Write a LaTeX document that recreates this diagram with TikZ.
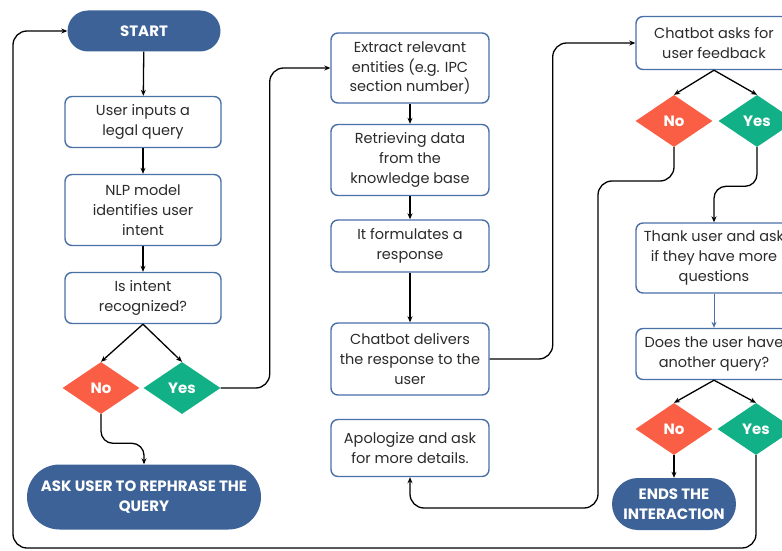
\documentclass[tikz,border=0pt]{standalone}
\usepackage{fontspec}
\setmainfont{Poppins}
\usepackage{xcolor}
\usepackage{tikz}
\usetikzlibrary{shapes.geometric,shapes.misc,arrows.meta}
\definecolor{pillblue}{HTML}{3D6298}
\definecolor{boxblue}{HTML}{4A70A8}
\definecolor{nored}{HTML}{FA5E44}
\definecolor{yesgreen}{HTML}{12B086}
\definecolor{textgrey}{HTML}{2B2B2B}
\begin{document}
\begin{tikzpicture}[x=1pt,y=-1pt,
  box/.style={draw=boxblue,line width=1.4pt,rounded corners=7pt,fill=white,align=center,text=textgrey,minimum width=156pt,inner sep=2pt,font=\fontsize{14.5}{19.8}\selectfont},
  pill/.style={rounded rectangle,fill=pillblue,text=white,align=center,inner sep=2pt,font=\fontsize{15}{19.5}\selectfont\bfseries},
  nobox/.style={diamond,fill=nored,text=white,minimum width=77pt,minimum height=52pt,inner sep=0pt,font=\fontsize{15}{16}\selectfont\bfseries},
  yesbox/.style={nobox,fill=yesgreen},
  arr/.style={-{Stealth[length=6pt,width=5pt]},line width=1.3pt,black}]
\useasboundingbox (0,0) rectangle (782,551);
\node[pill,minimum width=157pt,minimum height=41pt] (start) at (144,31) {START};
\node[box,minimum height=51pt] (query) at (143,122) {User inputs a\\legal query};
\node[box,minimum height=71pt] (nlp) at (143,210) {NLP model\\identifies user\\intent};
\node[box,minimum height=51pt] (intent) at (143,298) {Is intent\\recognized?};
\node[nobox] (no1) at (101,388) {No};
\node[yesbox] (yes1) at (182,388) {Yes};
\node[pill,minimum width=238pt,minimum height=65pt] (ask) at (144,497) {ASK USER TO REPHRASE THE\\QUERY};
\node[box,minimum width=158pt,minimum height=70pt] (extract) at (410,68) {Extract relevant\\entities (e.g. IPC\\section number)};
\node[box,minimum width=158pt,minimum height=71pt] (retrieve) at (410,160) {Retrieving data\\from the\\knowledge base};
\node[box,minimum width=158pt,minimum height=52pt] (formulate) at (410,246) {It formulates a\\response};
\node[box,minimum width=158pt,minimum height=72pt] (deliver) at (410,359) {Chatbot delivers\\the response to the\\user};
\node[box,minimum width=158pt,minimum height=57pt] (apologize) at (410,448) {Apologize and ask\\for more details.};
\node[box,minimum height=53pt] (feedback) at (714,43) {Chatbot asks for\\user feedback};
\node[nobox] (no2) at (674,121) {No};
\node[yesbox] (yes2) at (757,121) {Yes};
\node[box,minimum height=70pt] (thank) at (714,258) {Thank user and ask\\if they have more\\questions};
\node[box,minimum height=51pt] (another) at (714,354) {Does the user have\\another query?};
\node[nobox] (no3) at (674,429) {No};
\node[yesbox] (yes3) at (756,429) {Yes};
\node[pill,minimum width=128pt,minimum height=52pt] (ends) at (674,504) {ENDS THE\\INTERACTION};
\draw[arr] (start) -- (query);
\draw[arr] (query) -- (nlp);
\draw[arr] (nlp) -- (intent);
\draw[arr] (intent.south) -- (no1.north);
\draw[arr] (intent.south) -- (yes1.north);
\draw[arr,rounded corners=12pt] (no1.south) |- ([yshift=21pt]ask.north) -- (ask.north);
\draw[arr,rounded corners=14pt] (yes1.east) -- ++(49,0) |- (extract.west);
\draw[arr] (extract) -- (retrieve);
\draw[arr] (retrieve) -- (formulate);
\draw[arr] (formulate) -- (deliver);
\draw[arr,rounded corners=14pt] (deliver.east) -- ++(63,0) |- (feedback.west);
\draw[arr] (feedback.south) -- (no2.north);
\draw[arr] (feedback.south) -- (yes2.north);
\draw[arr,rounded corners=14pt] (no2.south) |- (598,181) -- (598,508) -| (apologize.south);
\draw[arr,rounded corners=12pt] (yes2.south) |- ([yshift=36pt]thank.north) -- (thank.north);
\draw[arr,draw=boxblue,line width=1pt] (thank) -- (another);
\draw[arr] (another.south) -- (no3.north);
\draw[arr] (another.south) -- (yes3.north);
\draw[arr] (no3) -- (ends);
\draw[arr,rounded corners=14pt] (yes3.south) |- (13,548) |- (start.west);
\end{tikzpicture}
\end{document}
